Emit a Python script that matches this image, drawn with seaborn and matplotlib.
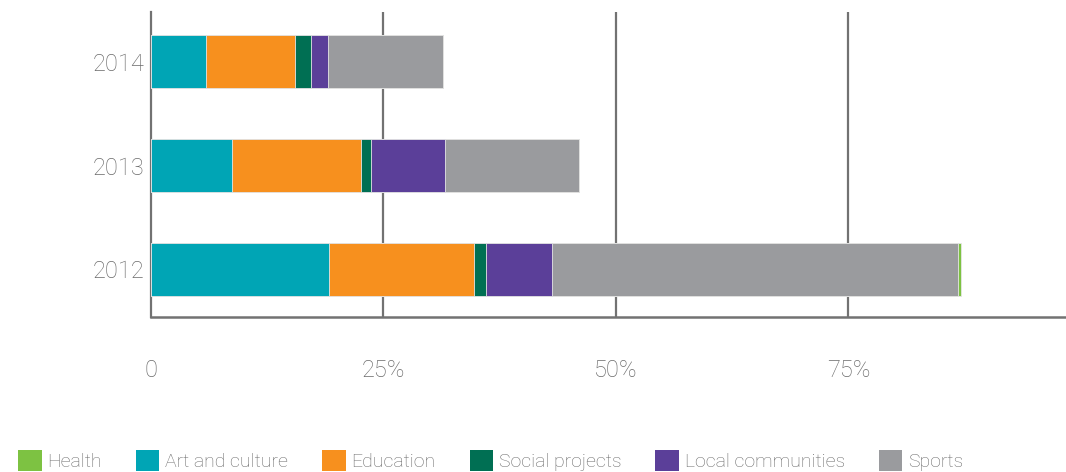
import matplotlib
matplotlib.use("Agg")
import matplotlib.pyplot as plt
import matplotlib.patches as mpatches
import pandas as pd
import seaborn as sns

# Data (share in %)
years = ["2014", "2013", "2012"]
art_culture = [5.9, 8.75, 19.2]
education = [9.6, 13.85, 15.5]
social_projects = [1.7, 1.1, 1.3]
local_communities = [1.8, 7.9, 7.1]
sports = [12.4, 14.4, 43.7]
health = [0.0, 0.0, 0.3]

categories = ["Health", "Art and culture", "Education", "Social projects",
              "Local communities", "Sports"]
colors = {
    "Health": "#7dc242",
    "Art and culture": "#00a5b5",
    "Education": "#f7901e",
    "Social projects": "#006f53",
    "Local communities": "#5b3f99",
    "Sports": "#9a9b9e",
}
tick_values = [0, 25, 50, 75]
tick_labels = ["0", "25%", "50%", "75%"]

# stacking order along the bar (left to right)
stack_order = ["Art and culture", "Education", "Social projects",
               "Local communities", "Sports", "Health"]
series = {
    "Art and culture": art_culture,
    "Education": education,
    "Social projects": social_projects,
    "Local communities": local_communities,
    "Sports": sports,
    "Health": health,
}

df = pd.DataFrame(series, index=years)
cum = df[stack_order].cumsum(axis=1)

sns.set_style("white")
plt.rcParams["font.family"] = ["Roboto", "DejaVu Sans"]

text_gray = "#6a6a6a"
line_gray = "#727272"

fig = plt.figure(figsize=(10.66, 4.72), dpi=100)
ax = fig.add_axes([0.1416, 0.3284, 0.8584, 0.6462])

# draw cumulative bars from the longest down so each segment shows
for cat in reversed(stack_order):
    sns.barplot(x=cum[cat].values, y=years, order=years, orient="h",
                color=colors[cat], saturation=1, width=0.51,
                edgecolor="#e6e6e6", linewidth=0.6, ax=ax, zorder=3)

ax.set_xlim(0, 98.4)
ax.set_ylim(2.46, -0.48)
ax.set_xticks(tick_values)
ax.set_xticklabels(tick_labels)
ax.set_xlabel("")
ax.set_ylabel("")

for v in tick_values[1:]:
    ax.axvline(v, color=line_gray, lw=1.6, zorder=1)

for side in ["top", "right"]:
    ax.spines[side].set_visible(False)
ax.spines["left"].set_color(line_gray)
ax.spines["left"].set_linewidth(1.6)
ax.spines["left"].set_zorder(1)
ax.spines["bottom"].set_color(line_gray)
ax.spines["bottom"].set_linewidth(1.8)

ax.tick_params(axis="x", length=0, pad=30, labelsize=17, labelcolor=text_gray)
ax.tick_params(axis="y", length=0, pad=5, labelsize=17, labelcolor=text_gray)
for lbl in ax.get_xticklabels() + ax.get_yticklabels():
    lbl.set_fontweight("light")

handles = [mpatches.Patch(facecolor=colors[c], edgecolor="none", label=c)
           for c in categories]
leg = fig.legend(handles=handles, loc="lower left", bbox_to_anchor=(0.01, -0.014),
                 ncol=6, frameon=False, fontsize=14, handlelength=1.2,
                 handleheight=1.3, handletextpad=0.3, columnspacing=1.75,
                 borderaxespad=0)
for t in leg.get_texts():
    t.set_color(text_gray)
    t.set_fontweight("light")

fig.savefig("out.png", dpi=100)
